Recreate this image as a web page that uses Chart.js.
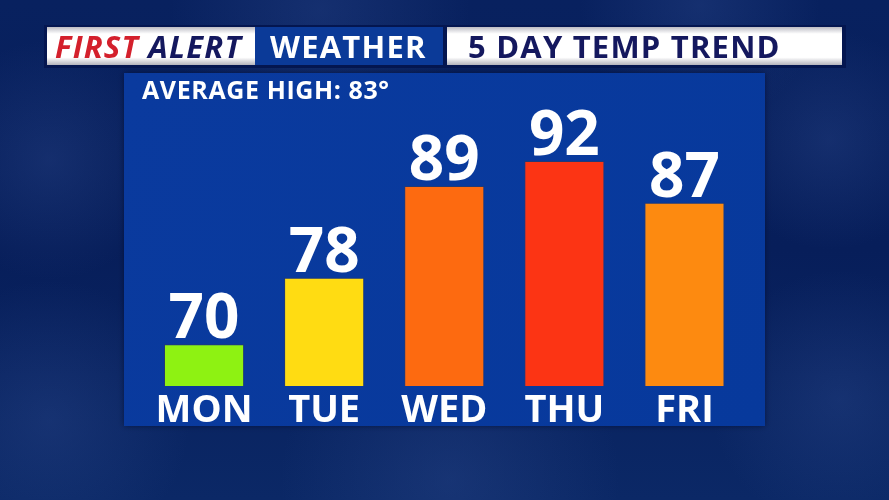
<!DOCTYPE html>
<html>
<head>
<meta charset="utf-8">
<title>5 Day Temp Trend</title>
<script src="https://cdn.jsdelivr.net/npm/chart.js@4"></script>
<style>
  html, body { margin: 0; padding: 0; background: #07215f; overflow: hidden; }
  #wrap { width: 889px; height: 500px; position: relative; }
</style>
</head>
<body>
<div id="wrap"><canvas id="temps" width="889" height="500"></canvas></div>
<script>
// chart data
const days = ["MON", "TUE", "WED", "THU", "FRI"];
const highs = [70, 78, 89, 92, 87];
const barColors = ["#8ef212", "#ffdc12", "#fd6a10", "#fc3414", "#fd8a10"];
const averageHigh = 83;

const FONT = "'Open Sans', 'DejaVu Sans', sans-serif";

// backdrop: cloudy navy sky, header strip and the blue panel
const backdrop = {
  id: "backdrop",
  beforeDraw(chart) {
    const ctx = chart.ctx;
    const w = chart.width, h = chart.height;
    ctx.save();

    let g = ctx.createLinearGradient(0, 0, 0, h);
    g.addColorStop(0, "#08215f");
    g.addColorStop(0.5, "#071e5a");
    g.addColorStop(1, "#0b2866");
    ctx.fillStyle = g;
    ctx.fillRect(0, 0, w, h);

    // a few soft cloud blobs
    const clouds = [[50, 160, 120], [830, 140, 110], [50, 420, 140], [840, 400, 130], [450, 480, 170], [320, 10, 150], [700, 5, 120]];
    clouds.forEach(c => {
      const rg = ctx.createRadialGradient(c[0], c[1], 0, c[0], c[1], c[2]);
      rg.addColorStop(0, "rgba(55,85,155,0.28)");
      rg.addColorStop(1, "rgba(55,85,155,0)");
      ctx.fillStyle = rg;
      ctx.fillRect(c[0] - c[2], c[1] - c[2], c[2] * 2, c[2] * 2);
    });

    // header strip
    ctx.fillStyle = "#041650";
    ctx.fillRect(44, 25, 802, 43);

    const whiteBox = (x, y, bw, bh) => {
      const wg = ctx.createLinearGradient(0, y, 0, y + bh);
      wg.addColorStop(0, "#bcbcc4");
      wg.addColorStop(0.18, "#ffffff");
      wg.addColorStop(0.8, "#ffffff");
      wg.addColorStop(1, "#b4b4bc");
      ctx.fillStyle = wg;
      ctx.fillRect(x, y, bw, bh);
    };
    whiteBox(47, 27, 208, 38);
    ctx.fillStyle = "#0b3a98";
    ctx.fillRect(255, 27, 188, 38);
    whiteBox(447, 27, 395, 38);

    ctx.textBaseline = "alphabetic";
    ctx.textAlign = "left";
    ctx.letterSpacing = "1.2px";
    ctx.font = "italic 700 31px " + FONT;
    ctx.fillStyle = "#d4202c";
    ctx.fillText("FIRST", 55, 58);
    const fw = ctx.measureText("FIRST ").width;
    ctx.fillStyle = "#14185e";
    ctx.fillText("ALERT", 55 + fw, 58);

    ctx.font = "700 31px " + FONT;
    ctx.fillStyle = "#ffffff";
    ctx.fillText("WEATHER", 270, 58);

    ctx.fillStyle = "#14185e";
    ctx.fillText("5 DAY TEMP TREND", 468, 58);

    // blue panel
    ctx.shadowColor = "rgba(0,8,40,0.6)";
    ctx.shadowBlur = 6;
    const pg = ctx.createLinearGradient(124, 73, 765, 426);
    pg.addColorStop(0, "#0a3a9e");
    pg.addColorStop(1, "#07399c");
    ctx.fillStyle = pg;
    ctx.fillRect(124, 73, 641, 353);
    ctx.shadowBlur = 0;
    ctx.shadowColor = "transparent";

    ctx.letterSpacing = "0.6px";
    ctx.font = "700 25px " + FONT;
    ctx.fillStyle = "#ffffff";
    ctx.fillText("AVERAGE HIGH: " + averageHigh + "°", 142, 99);

    ctx.restore();
  }
};

// temperature numbers above bars and day names below
const barText = {
  id: "barText",
  afterDatasetsDraw(chart) {
    const ctx = chart.ctx;
    const meta = chart.getDatasetMeta(0);
    const xs = chart.scales.x;
    ctx.save();
    ctx.fillStyle = "#ffffff";
    ctx.textAlign = "center";
    ctx.textBaseline = "alphabetic";
    meta.data.forEach((bar, i) => {
      ctx.font = "700 62px " + FONT;
      ctx.fillText(String(highs[i]), bar.x, bar.y - 6);
      ctx.font = "700 38px " + FONT;
      ctx.fillText(days[i], xs.getPixelForValue(i), 422);
    });
    ctx.restore();
  }
};

new Chart(document.getElementById("temps"), {
  type: "bar",
  data: {
    labels: days,
    datasets: [{
      data: highs,
      backgroundColor: barColors,
      borderColor: "rgba(90,60,40,0.35)",
      borderWidth: 1,
      barPercentage: 1,
      categoryPercentage: 0.667
    }]
  },
  options: {
    responsive: false,
    animation: false,
    events: [],
    layout: { padding: { left: 144, right: 144.5, top: 94.4, bottom: 114 } },
    plugins: { legend: { display: false }, tooltip: { enabled: false } },
    scales: {
      x: { display: false },
      y: { display: false, min: 65, max: 100 }
    }
  },
  plugins: [backdrop, barText]
});
</script>
</body>
</html>
